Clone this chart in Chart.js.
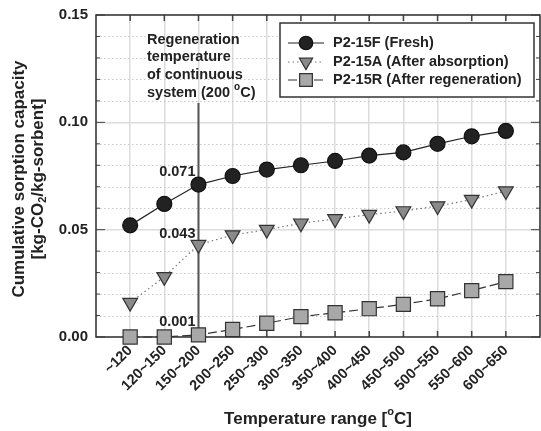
<!DOCTYPE html>
<html>
<head>
<meta charset="utf-8">
<script src="https://cdn.jsdelivr.net/npm/chart.js@4/dist/chart.umd.min.js"></script>
<style>
  body { margin: 0; background: #fff; }
  canvas { display: block; }
</style>
</head>
<body>
<canvas id="chart" width="541" height="431"></canvas>
<script>
const categories = ['~120', '120~150', '150~200', '200~250', '250~300', '300~350',
    '350~400', '400~450', '450~500', '500~550', '550~600', '600~650'];
const freshValues = [0.052, 0.062, 0.071, 0.075, 0.078, 0.080, 0.082, 0.0845, 0.086, 0.090, 0.0935, 0.096];
const absorbValues = [0.016, 0.028, 0.043, 0.0475, 0.050, 0.053, 0.055, 0.057, 0.0587, 0.061, 0.064, 0.068];
const regenValues = [0.000, 0.000, 0.001, 0.0035, 0.0064, 0.0095, 0.0113, 0.0132, 0.0152, 0.0178, 0.0216, 0.0258];
const yTicks = [0, 0.05, 0.10, 0.15];
const seriesNames = ['P2-15F (Fresh)', 'P2-15A (After absorption)', 'P2-15R (After regeneration)'];
const regenIndex = 2; // 150~200 category

const FONT = '"Liberation Sans", Arial, sans-serif';

function toPoints(arr) {
    return arr.map((v, i) => ({ x: i, y: v }));
}

const seriesStyles = [
    { pointStyle: 'circle', radius: 7.5, rotation: 0, fill: '#222', stroke: '#111', line: '#222', dash: [] },
    { pointStyle: 'triangle', radius: 8.5, rotation: 180, fill: '#8a8a8a', stroke: '#333', line: '#777', dash: [1.5, 3] },
    { pointStyle: 'rect', radius: 10, rotation: 0, fill: '#a8a8a8', stroke: '#333', line: '#333', dash: [9, 4] }
];

const datasets = [freshValues, absorbValues, regenValues].map((vals, k) => {
    const s = seriesStyles[k];
    return {
        label: seriesNames[k],
        data: toPoints(vals),
        borderColor: s.line,
        borderWidth: 1.2,
        borderDash: s.dash,
        pointStyle: s.pointStyle,
        pointRadius: s.radius,
        pointRotation: s.rotation,
        pointBackgroundColor: s.fill,
        pointBorderColor: s.stroke,
        pointBorderWidth: 1.2,
        showLine: true,
        clip: false
    };
});

// draws a string made of parts (for super/subscripts)
function drawParts(ctx, parts, x, y) {
    let cx = x;
    parts.forEach(p => {
        ctx.font = 'bold ' + p.size + 'px ' + FONT;
        ctx.fillText(p.text, cx, y + (p.dy || 0));
        cx += ctx.measureText(p.text).width;
    });
}
function partsWidth(ctx, parts) {
    let w = 0;
    parts.forEach(p => {
        ctx.font = 'bold ' + p.size + 'px ' + FONT;
        w += ctx.measureText(p.text).width;
    });
    return w;
}

// minor dotted grid, frame, inward ticks, annotation, legend, titles
const backgroundPlugin = {
    id: 'backgroundPlugin',
    beforeDatasetsDraw(chart) {
        const { ctx, chartArea: a, scales: { x, y } } = chart;
        ctx.save();
        ctx.strokeStyle = '#c8c8c8';
        ctx.lineWidth = 1;
        ctx.setLineDash([1.5, 2.5]);
        for (let i = 1; i < 15; i++) {
            if (i % 5 === 0) continue;
            const py = Math.round(y.getPixelForValue(i / 100)) + 0.5;
            ctx.beginPath();
            ctx.moveTo(a.left, py);
            ctx.lineTo(a.right, py);
            ctx.stroke();
        }
        ctx.setLineDash([]);

        // regeneration line
        const rx = x.getPixelForValue(regenIndex);
        ctx.strokeStyle = '#555';
        ctx.lineWidth = 2;
        ctx.beginPath();
        ctx.moveTo(rx, 103);
        ctx.lineTo(rx, a.bottom);
        ctx.stroke();

        // ticks
        ctx.strokeStyle = '#444';
        ctx.lineWidth = 1.5;
        for (let i = 0; i < categories.length; i++) {
            const px = x.getPixelForValue(i);
            ctx.beginPath();
            ctx.moveTo(px, a.bottom); ctx.lineTo(px, a.bottom - 6);
            ctx.moveTo(px, a.top); ctx.lineTo(px, a.top + 6);
            ctx.stroke();
        }
        ctx.lineWidth = 1;
        for (let i = 0; i <= 15; i++) {
            const py = y.getPixelForValue(i / 100);
            const len = i % 5 === 0 ? 9 : 4;
            ctx.beginPath();
            ctx.moveTo(a.left, py); ctx.lineTo(a.left + len, py);
            ctx.moveTo(a.right, py); ctx.lineTo(a.right - len, py);
            ctx.stroke();
        }

        // frame
        ctx.strokeStyle = '#333';
        ctx.lineWidth = 1.5;
        ctx.strokeRect(a.left, a.top, a.right - a.left, a.bottom - a.top);
        ctx.restore();
    },
    afterDraw(chart) {
        const { ctx, chartArea: a, scales: { x, y } } = chart;
        ctx.save();
        ctx.fillStyle = '#222';
        ctx.textBaseline = 'middle';
        ctx.textAlign = 'left';

        // annotation
        ctx.font = 'bold 14.5px ' + FONT;
        ctx.fillText('Regeneration', 147, 40);
        ctx.fillText('temperature', 147, 57);
        ctx.fillText('of continuous', 147, 75);
        drawParts(ctx, [
            { text: 'system (200 ', size: 14.5 },
            { text: 'o', size: 10, dy: -6 },
            { text: 'C)', size: 14.5 }
        ], 147, 93);

        // value labels
        ctx.font = 'bold 14.5px ' + FONT;
        ctx.textAlign = 'right';
        const lx = x.getPixelForValue(regenIndex) - 3;
        ctx.fillText('0.071', lx, y.getPixelForValue(freshValues[regenIndex]) - 13);
        ctx.fillText('0.043', lx, y.getPixelForValue(absorbValues[regenIndex]) - 11);
        ctx.fillText('0.001', lx, y.getPixelForValue(regenValues[regenIndex]) - 13);

        // legend
        const box = { l: 280, t: 23, r: 534, b: 97 };
        ctx.fillStyle = '#fff';
        ctx.fillRect(box.l, box.t, box.r - box.l, box.b - box.t);
        ctx.strokeStyle = '#333';
        ctx.lineWidth = 1.5;
        ctx.strokeRect(box.l, box.t, box.r - box.l, box.b - box.t);
        const rows = [43, 62, 80];
        seriesStyles.forEach((s, k) => {
            const ry = rows[k];
            ctx.strokeStyle = s.line;
            ctx.lineWidth = 1.2;
            ctx.setLineDash(s.dash);
            ctx.beginPath();
            ctx.moveTo(288, ry); ctx.lineTo(324, ry);
            ctx.stroke();
            ctx.setLineDash([]);
            ctx.fillStyle = s.fill;
            ctx.strokeStyle = s.stroke;
            ctx.lineWidth = 1.2;
            Chart.helpers.drawPoint(ctx, { pointStyle: s.pointStyle, radius: s.radius * 0.9, rotation: s.rotation, borderWidth: 1.2 }, 306, ry);
            ctx.fillStyle = '#222';
            ctx.font = 'bold 14.5px ' + FONT;
            ctx.textAlign = 'left';
            ctx.fillText(seriesNames[k], 333, ry);
        });

        // x title
        const xParts = [
            { text: 'Temperature range [', size: 17 },
            { text: 'o', size: 11, dy: -7 },
            { text: 'C]', size: 17 }
        ];
        const xw = partsWidth(ctx, xParts);
        ctx.textAlign = 'left';
        drawParts(ctx, xParts, (a.left + a.right) / 2 - xw / 2, 419);

        // y title
        const cy = (a.top + a.bottom) / 2 + 3;
        ctx.save();
        ctx.translate(19, cy);
        ctx.rotate(-Math.PI / 2);
        ctx.textAlign = 'center';
        ctx.font = 'bold 17px ' + FONT;
        ctx.fillText('Cumulative sorption capacity', 0, 0);
        ctx.restore();
        ctx.save();
        ctx.translate(38, cy);
        ctx.rotate(-Math.PI / 2);
        const yParts = [
            { text: '[kg-CO', size: 17 },
            { text: '2', size: 11, dy: 5 },
            { text: '/kg-sorbent]', size: 17 }
        ];
        const yw = partsWidth(ctx, yParts);
        ctx.textAlign = 'left';
        drawParts(ctx, yParts, -yw / 2, 0);
        ctx.restore();

        ctx.restore();
    }
};

new Chart(document.getElementById('chart').getContext('2d'), {
    type: 'scatter',
    data: { datasets: datasets },
    options: {
        responsive: false,
        animation: false,
        layout: { autoPadding: false, padding: { top: 15, right: 1, left: 0, bottom: 0 } },
        plugins: { legend: { display: false }, tooltip: { enabled: false } },
        scales: {
            x: {
                type: 'linear',
                min: -1,
                max: 12,
                afterFit(scale) {
                    scale.height = 94;
                    scale.paddingLeft = 0;
                    scale.paddingRight = 0;
                },
                afterBuildTicks(scale) {
                    scale.ticks = [];
                    for (let i = -1; i <= 12; i++) scale.ticks.push({ value: i });
                },
                ticks: {
                    autoSkip: false,
                    maxRotation: 45,
                    minRotation: 45,
                    padding: 5,
                    color: '#222',
                    font: { family: FONT, size: 14.5, weight: 'bold' },
                    callback: v => (categories[v] !== undefined ? categories[v] : '')
                },
                grid: { color: '#dcdcdc', lineWidth: 1.5, drawTicks: false },
                border: { display: false }
            },
            y: {
                min: 0,
                max: 0.15,
                afterFit(scale) {
                    scale.width = 96;
                    scale.paddingTop = 0;
                    scale.paddingBottom = 0;
                },
                afterBuildTicks(scale) {
                    scale.ticks = yTicks.map(v => ({ value: v }));
                },
                ticks: {
                    padding: 8,
                    color: '#222',
                    font: { family: FONT, size: 15, weight: 'bold' },
                    callback: v => v.toFixed(2)
                },
                grid: { color: '#dcdcdc', lineWidth: 1.5, drawTicks: false },
                border: { display: false }
            }
        }
    },
    plugins: [backgroundPlugin]
});
</script>
</body>
</html>
